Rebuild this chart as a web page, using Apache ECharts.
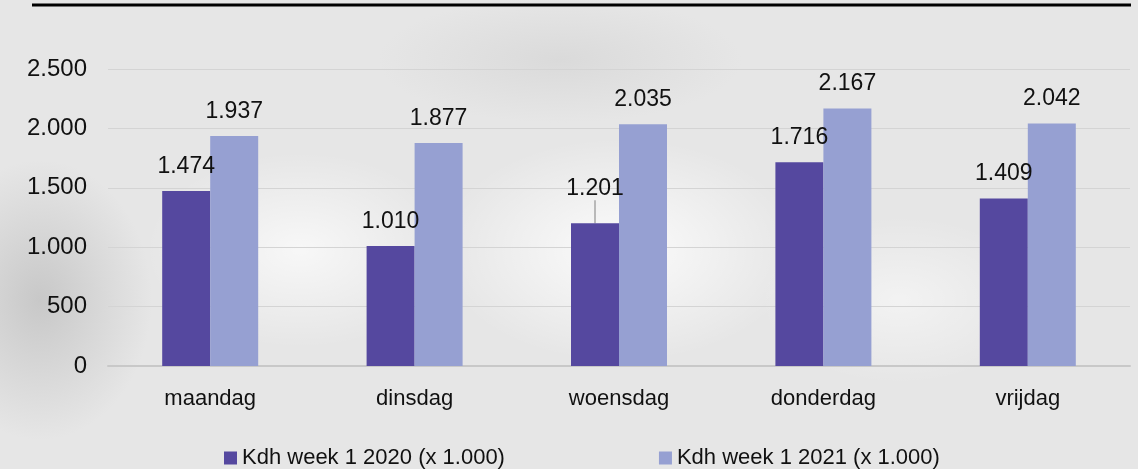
<!DOCTYPE html>
<html>
<head>
<meta charset="utf-8">
<title>Kdh week 1</title>
<script src="https://cdn.jsdelivr.net/npm/echarts@6/dist/echarts.min.js"></script>
<style>
  html, body { margin: 0; padding: 0; }
  body {
    width: 1138px; height: 469px; overflow: hidden;
    background:
      radial-gradient(ellipse 260px 160px at 620px 250px, rgba(255,255,255,0.85), rgba(255,255,255,0) 70%),
      radial-gradient(ellipse 220px 140px at 300px 250px, rgba(255,255,255,0.7), rgba(255,255,255,0) 70%),
      radial-gradient(ellipse 200px 120px at 900px 300px, rgba(255,255,255,0.5), rgba(255,255,255,0) 70%),
      radial-gradient(ellipse 160px 200px at 40px 300px, rgba(170,170,170,0.5), rgba(170,170,170,0) 70%),
      radial-gradient(ellipse 260px 90px at 560px 60px, rgba(200,200,200,0.4), rgba(200,200,200,0) 70%),
      #e6e6e6;
  }
  #chart { width: 1138px; height: 469px; }
</style>
</head>
<body>
<div id="chart"></div>
<script>
// dagen en waarden (x 1.000)
const days = ['maandag', 'dinsdag', 'woensdag', 'donderdag', 'vrijdag']
const week1_2020 = [1474, 1010, 1201, 1716, 1409]
const week1_2021 = [1937, 1877, 2035, 2167, 2042]
const seriesNames = ['Kdh week 1 2020 (x 1.000)', 'Kdh week 1 2021 (x 1.000)']

// label van woensdag 2020 is in het origineel omhoog geschoven (met lijntje)
const movedLabelIndex = 2

const fmt = v => String(v).replace(/\B(?=(\d{3})+(?!\d))/g, '.')

const font = '"Liberation Sans", Arial, sans-serif'

const chart = echarts.init(document.getElementById('chart'))

const labelConf = {
  show: true,
  position: 'top',
  distance: 13,
  color: '#111',
  fontSize: 23,
  fontFamily: font,
  formatter: p => fmt(p.value)
}

chart.setOption({
  backgroundColor: 'transparent',
  textStyle: { fontFamily: font },
  graphic: [{
    type: 'line',
    shape: { x1: 32, y1: 5, x2: 1131, y2: 5 },
    style: { stroke: '#000', lineWidth: 3 }
  }],
  legend: {
    left: 224,
    top: 447,
    padding: 0,
    itemWidth: 13,
    itemHeight: 13,
    itemGap: 154,
    icon: 'rect',
    textStyle: { fontSize: 22, lineHeight: 22, color: '#111', fontFamily: font },
    data: seriesNames
  },
  grid: { left: 108, right: 8, top: 69, bottom: 103, containLabel: false },
  xAxis: {
    type: 'category',
    data: days,
    axisLine: { lineStyle: { color: '#c8c8c8', width: 2 } },
    axisTick: { show: false },
    axisLabel: { color: '#111', fontSize: 22, margin: 22, fontFamily: font }
  },
  yAxis: {
    type: 'value',
    min: 0,
    max: 2500,
    interval: 500,
    axisLine: { show: false },
    axisTick: { show: false },
    axisLabel: { color: '#111', fontSize: 24, margin: 21, fontFamily: font, formatter: fmt },
    splitLine: { lineStyle: { color: '#d4d4d4', width: 1 } }
  },
  series: [
    {
      name: seriesNames[0],
      type: 'bar',
      data: week1_2020.map((v, i) => (i === movedLabelIndex
        ? { value: v, labelLine: { show: true, lineStyle: { color: '#a6a6a6', width: 1.5 } } }
        : v)),
      barWidth: 48,
      barGap: '0%',
      itemStyle: { color: '#55489f' },
      label: labelConf,
      labelLayout: p => (p.dataIndex === movedLabelIndex ? { dy: -10 } : {})
    },
    {
      name: seriesNames[1],
      type: 'bar',
      data: week1_2021,
      barWidth: 48,
      barGap: '0%',
      itemStyle: { color: '#96a0d2' },
      label: labelConf
    }
  ]
})
</script>
</body>
</html>
